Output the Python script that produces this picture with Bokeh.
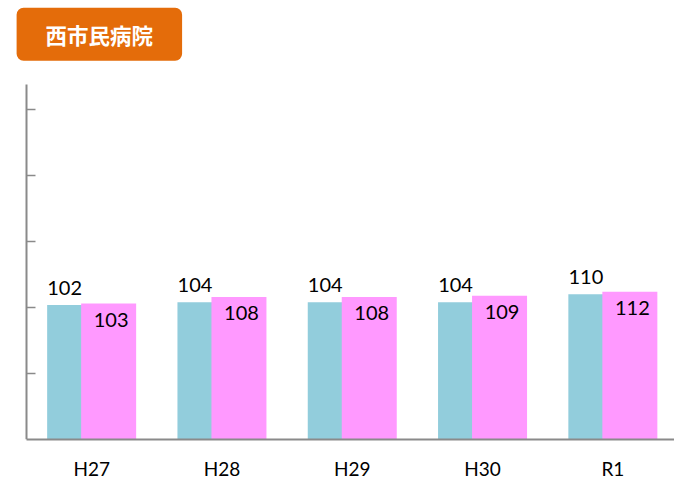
from bokeh.plotting import figure
from bokeh.models import Range1d, FixedTicker, Label, ColumnDataSource
from bokeh.core.properties import value
from bokeh.embed import file_html
from bokeh.resources import INLINE

# ---- data ----
categories = ["H27", "H28", "H29", "H30", "R1"]
series_blue = [102, 104, 104, 104, 110]
series_pink = [103, 108, 108, 109, 112]
y_ticks = [50, 100, 150, 200, 250]
axis_top = 269
title_text = "西市民病院"

# ---- layout constants ----
W, H = 674, 482
MB = 43
AXIS_LEFT_PX = 26         # canvas x of the value axis
AXIS_TOP_PX = 84          # canvas y where the value axis ends
CAT_PX = 130.3
frame_w = W
frame_h = H - MB
x_start = -AXIS_LEFT_PX / CAT_PX
x_end = (frame_w - AXIS_LEFT_PX) / CAT_PX
y_end = axis_top * frame_h / (frame_h - AXIS_TOP_PX)

idx = list(range(len(categories)))
centers = [i + 0.5 for i in idx]
bar_w = 55 / CAT_PX
off = 17 / CAT_PX

src = ColumnDataSource(dict(
    xb=[c - off for c in centers],
    xp=[c + off for c in centers],
    blue=series_blue,
    pink=series_pink,
    blue_t=[str(v) for v in series_blue],
    pink_t=[str(v) for v in series_pink],
))

p = figure(width=W, height=H, output_backend="svg", toolbar_location=None,
           x_range=Range1d(x_start, x_end), y_range=Range1d(0, y_end),
           min_border_left=0, min_border_top=0, min_border_bottom=MB,
           min_border_right=0)
p.outline_line_color = None
p.xgrid.visible = False
p.ygrid.visible = False
p.background_fill_color = "white"
p.border_fill_color = "white"

p.vbar(x="xb", top="blue", width=bar_w, bottom=0, source=src,
       fill_color="#92CDDC", line_color=None)
p.vbar(x="xp", top="pink", width=bar_w, bottom=0, source=src,
       fill_color="#FF99FF", line_color=None)

p.text(x="xb", y="blue", text="blue_t", source=src,
       text_font=value("Lato"), text_font_size="20px", text_color="#000000",
       text_align="center", text_baseline="alphabetic", y_offset=-17, x_offset=-10)
p.text(x="xp", y="pink", text="pink_t", source=src,
       text_font=value("Lato"), text_font_size="20px", text_color="#000000",
       text_align="center", text_baseline="alphabetic", y_offset=16, x_offset=2.5)

axis_color = "#8A8A8A"
# y axis (placed at x = 0 inside the frame)
ya = p.yaxis[0]
ya.fixed_location = 0
ya.bounds = (0, axis_top)
ya.ticker = FixedTicker(ticks=y_ticks)
ya.major_label_overrides = {t: "" for t in y_ticks}
ya.axis_line_color = axis_color
ya.axis_line_width = 2
ya.major_tick_line_color = axis_color
ya.major_tick_line_width = 1.5
ya.major_tick_in = 9
ya.major_tick_out = 0
ya.minor_tick_line_color = None
ya.major_label_standoff = 0

# x axis
xa = p.xaxis[0]
xa.bounds = (0, x_end)
xa.ticker = FixedTicker(ticks=centers)
xa.major_label_overrides = {c: lab for c, lab in zip(centers, categories)}
xa.axis_line_color = axis_color
xa.axis_line_width = 2
xa.major_tick_line_color = None
xa.major_tick_in = 0
xa.major_tick_out = 0
xa.minor_tick_line_color = None
xa.major_label_text_font = "Lato"
xa.major_label_text_font_size = "19px"
xa.major_label_text_color = "#000000"
xa.major_label_standoff = 17

# title badge (inside the frame, screen units from frame bottom-left)
title = Label(x=98.85, y=frame_h - 33.7, x_units="screen", y_units="screen",
              text=title_text, text_font="Noto Sans CJK JP", text_font_style="bold",
              text_font_size="21.5px", text_color="white",
              text_align="center", text_baseline="middle",
              background_fill_color="#E46C0A", border_line_color=None,
              padding=(29, 29, 11, 11), border_radius=7)
p.add_layout(title)

open("out.html", "w").write(file_html(p, INLINE))
